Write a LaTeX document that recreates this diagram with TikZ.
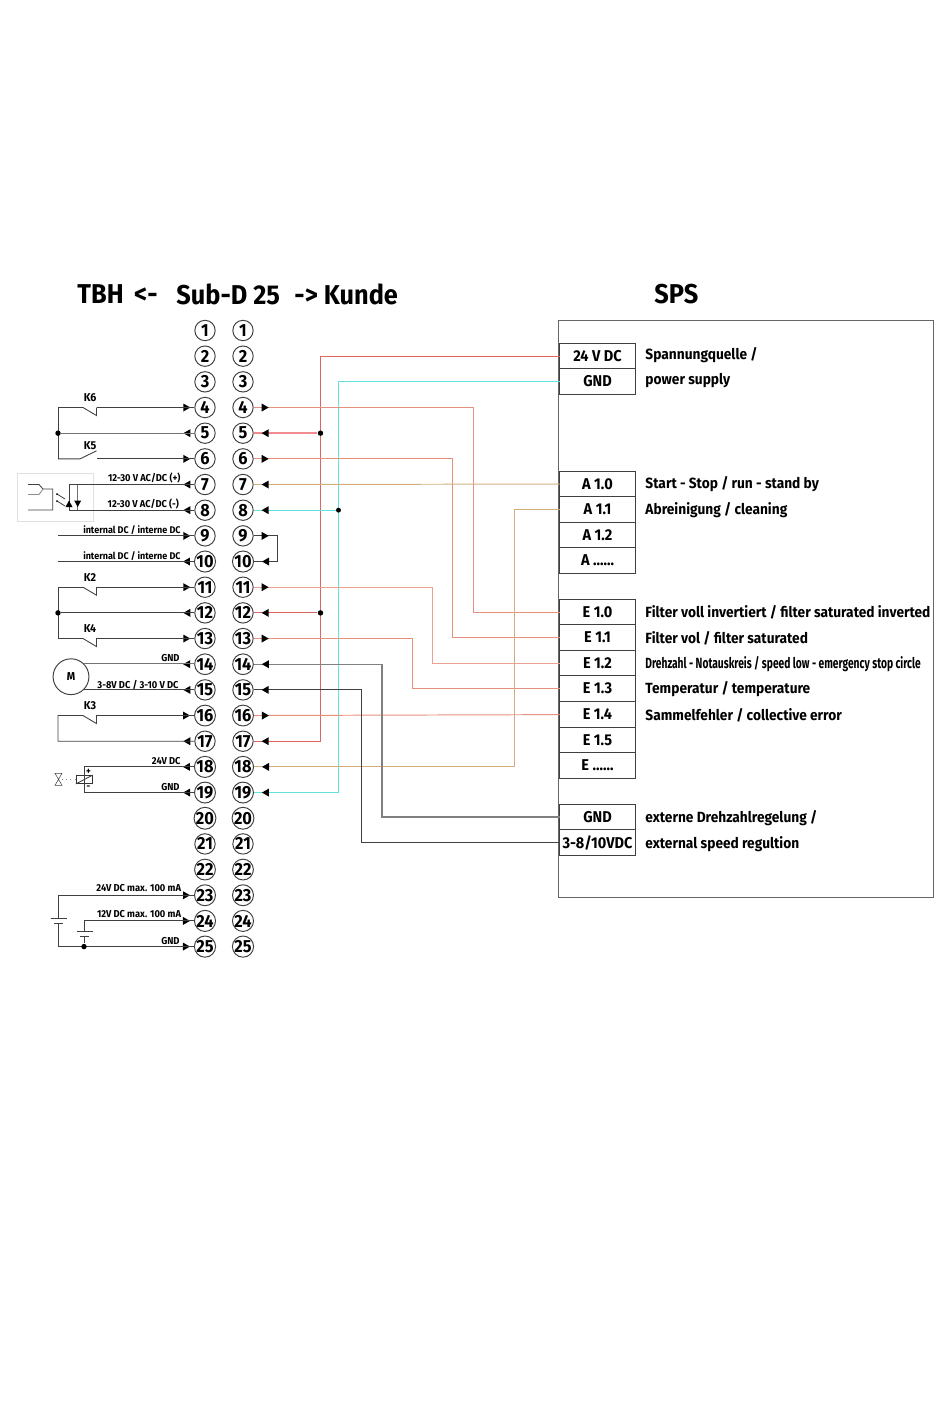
\documentclass[tikz,border=0pt]{standalone}
\usepackage{fontspec}
\setmainfont[FakeStretch=0.93]{Fira Sans}
\newfontfamily\tightfont[FakeStretch=0.695]{Fira Sans}
\usetikzlibrary{calc}
\definecolor{wirered}{HTML}{DE6464}
\definecolor{wirepink}{HTML}{F08C90}
\definecolor{wirecyan}{HTML}{62E2DE}
\definecolor{wiresalmon}{HTML}{E6917E}
\definecolor{wiretan}{HTML}{D3AE7C}
\definecolor{wiregrey}{HTML}{808080}
\tikzset{
	pin/.style={draw=black!75, circle, inner sep=0pt, minimum size=11.6pt, font=\bfseries\fontsize{10}{10}\selectfont},
	plc/.style={draw=black!75, inner sep=0pt, outer sep=0pt, minimum width=43.1pt, minimum height=14.5pt, font=\bfseries\fontsize{8.9}{8.9}\selectfont},
	desc/.style={anchor=west, inner sep=0pt, font=\bfseries\fontsize{8.4}{8.4}\selectfont},
	headline/.style={anchor=west, inner sep=0pt, font=\bfseries\fontsize{15.5}{15.5}\selectfont},
	tag/.style={anchor=east, inner sep=0pt, font=\bfseries\fontsize{5.7}{5.7}\selectfont},
	relay/.style={inner sep=0pt, font=\bfseries\fontsize{6.5}{6.5}\selectfont},
	wire/.style={draw=black!75, line width=.5pt},
	dot/.style={fill=black, circle, inner sep=0pt, minimum size=3.1pt}
}
\begin{document}
\begin{tikzpicture}[x=0.02cm, y=-0.02cm, line width=.55pt]
\useasboundingbox (0,0) rectangle (950,1420);

\node[headline] (tbh) at (77,294) {TBH \,<-};
\node[headline] (subd) at (176,294) {Sub-D 25};
\node[headline] (kunde) at (294,294) {-> Kunde};
\node[headline] (sps) at (654,294) {SPS};

\foreach \n in {1,2,...,25} {
	\node[pin] (l\n) at (205,{330.5+(\n-1)*25.67}) {\n};
	\node[pin] (r\n) at (243,{330.5+(\n-1)*25.67}) {\n};
}

\draw[draw=black!60] (558,320) rectangle (933,897);
\node[plc] (p24) at (597.5,356) {24 V DC};
\node[plc] (pgnd) at (597.5,381.5) {GND};
\foreach \name/\y/\txt in {a10/484/A 1.0,a11/509.5/A 1.1,a12/535/A 1.2,e10/612/E 1.0,e11/637.5/E 1.1,e12/663/E 1.2,e13/688.5/E 1.3,e14/714.5/E 1.4,e15/740/E 1.5,sgnd/817/GND}
	\node[plc] (\name) at (597.5,\y) {\txt};
\node[plc] (a13) at (597.5,560.5) {A ......};
\node[plc] (e16) at (597.5,765.5) {E ......};
\node[plc] (sreg) at (597.5,842.5) {3-8/10VDC};

\node[desc] (d24) at (645,355) {Spannungquelle /};
\node[desc] (dgnd) at (645,381) {power supply};
\node[desc] (da10) at (645,484.5) {Start - Stop / run - stand by};
\node[desc] (da11) at (645,510) {Abreinigung / cleaning};
\node[desc] (de10) at (645,612.5) {Filter voll invertiert / filter saturated inverted};
\node[desc] (de11) at (645,638.5) {Filter vol / filter saturated};
\node[desc, font=\tightfont\bfseries\fontsize{8.4}{8.4}\selectfont] (de12) at (645,664) {Drehzahl - Notauskreis / speed low - emergency stop circle};
\node[desc] (de13) at (645,689.5) {Temperatur / temperature};
\node[desc] (de14) at (645,715.5) {Sammelfehler / collective error};
\node[desc] (dsgnd) at (645,818) {externe Drehzahlregelung /};
\node[desc] (dsreg) at (645,844) {external speed regultion};

\coordinate (b24) at (320.5,0);
\coordinate (bgnd) at (338.5,0);
\coordinate (b4) at (473,0);
\coordinate (b6) at (452.5,0);
\coordinate (b11) at (432,0);
\coordinate (b13) at (412,0);
\coordinate (b14) at (382,0);
\coordinate (b15) at (361.5,0);
\coordinate (b18) at (514.5,0);

\draw[wirered] (p24) -- (p24 -| b24) |- (r17);
\draw[wirecyan] (pgnd) -- (pgnd -| bgnd) |- (r19);
\node[dot] (j5) at (r5 -| b24) {};
\node[dot] (j12) at (r12 -| b24) {};
\node[dot, minimum size=2.8pt] (j8) at (r8 -| bgnd) {};
\draw[wirepink, line width=1.1pt] (r5) -- (j5);
\draw[wirered, line width=.7pt] (r12) -- (j12);
\draw[wirecyan, line width=.7pt] (r8) -- (j8);
\draw[wiresalmon] (r4) -- (r4 -| b4) |- (e10);
\draw[wiresalmon] (r6) -- (r6 -| b6) |- (e11);
\draw[wiresalmon!85!white] (r11) -- (r11 -| b11) |- (e12);
\draw[wiresalmon] (r13) -- (r13 -| b13) |- (e13);
\draw[wiresalmon] (r16) -- (e14);
\draw[wiretan] (r7) -- (a10);
\draw[wiretan] (a11) -- (a11 -| b18) |- (r18);
\draw[wiregrey, line width=.7pt] (r14) -- (r14 -| b14) |- (sgnd);
\draw[black!75] (r15) -- (r15 -| b15) |- (sreg);
\coordinate (b9) at (277,0);
\draw[wire] (r9) -- (r9 -| b9) |- (r10);

\foreach \n in {4,6,9,11,13,16} \fill ($(r\n.east)+(8,-4)$) -- ++(7,4) -- ++(-7,4) -- cycle;
\foreach \n in {5,7,8,10,12,14,15,17,18,19} \fill ($(r\n.east)+(15,-4)$) -- ++(-7,4) -- ++(7,4) -- cycle;
\foreach \n in {4,6,9,11,13,16,23,24,25} \fill ($(l\n.west)+(-11,-4)$) -- ++(7,4) -- ++(-7,4) -- cycle;
\foreach \n in {5,7,8,10,12,14,15,17,18,19} \fill ($(l\n.west)+(-4,-4)$) -- ++(-7,4) -- ++(7,4) -- cycle;

\coordinate (rail) at (58,0);
\coordinate (cont) at (83,0);
\coordinate (hinge) at (96.5,0);
\foreach \top/\mid/\low in {4/5/6,11/12/13} {
	\draw[wire] (l\top -| hinge) -- (l\top);
	\draw[wire] (l\top -| cont) -- (l\top -| rail) -- (l\low -| rail);
	\draw[wire] (l\top -| cont) -- ($(l\top -| hinge)+(0,8)$) -- (l\top -| hinge);
	\node[dot] (j\mid) at (l\mid -| rail) {};
	\draw[wire] (j\mid) -- (l\mid);
}
\draw[wire, black!55, line width=.7pt] (j5) -- (l5);
\draw[wire] (l6) -- (l6 -| hinge);
\draw[wire] (l6 -| rail) -- ($(l6 -| hinge)+(-16.5,0)$) -- ($(l6 -| hinge)+(0,-8)$);
\draw[wire] (l13) -- (l13 -| hinge) -- ($(l13 -| hinge)+(0,8)$) -- (l13 -| cont) -- (l13 -| rail);
\draw[wire] (l16) -- (l16 -| hinge) -- ($(l16 -| hinge)+(0,8)$) -- (l16 -| cont) -- (l16 -| rail) -- (l17 -| rail) -- (l17);

\node[relay] (k6) at (90,398) {K6};
\node[relay] (k5) at (90,446) {K5};
\node[relay] (k2) at (90,577.5) {K2};
\node[relay] (k4) at (90,629) {K4};
\node[relay] (k3) at (90,705.5) {K3};

\draw[black!12] (17,473) rectangle (93.5,521);
\coordinate (led) at (69,0);
\coordinate (zener) at (77.7,0);
\draw[wire] (l7) -- (l7 -| led) -- (l8 -| led) -- (l8);
\draw[wire, black!55] (l7 -| zener) -- (l8 -| zener);
\fill (65.5,507) -- (72.5,507) -- (69,500.5) -- cycle;
\fill (74.2,500.5) -- (81.2,500.5) -- (77.7,507) -- cycle;
\draw[wire] (28,484.5) -- (39,484.5) -- (43,489) -- (52.7,489) -- (52.7,510) -- (28,510);
\draw[wire, black!45] (28,494.5) -- (39,494.5) -- (43,489);
\draw[wire, black!70] (57,494) -- (65,499) (57,501) -- (65,506);
\fill (57,494) circle (1) (57,501) circle (1);
\node[tag] (t7) at (181,478) {12-30 V AC/DC (+)};
\node[tag] (t8) at (179.5,504) {12-30 V AC/DC (-)};

\draw[wire] (l9 -| rail) -- (l9);
\draw[wire] (l10 -| rail) -- (l10);
\node[tag, font=\bfseries\fontsize{5.5}{5.5}\selectfont] (t9) at (181,530) {internal DC / interne DC};
\node[tag, font=\bfseries\fontsize{5.5}{5.5}\selectfont] (t10) at (181,556) {internal DC / interne DC};

\node[draw=black!75, circle, inner sep=0pt, minimum size=20.4pt, font=\bfseries\fontsize{6.5}{6.5}\selectfont] (motor) at (71,676.7) {M};
\draw[wire, black!55, line width=.7pt] (motor.45) -- (motor.45 -| l14.west);
\draw[wire] (motor.-45) -- (motor.-45 -| l15.west);
\node[tag] (t14) at (180,658.5) {GND};
\node[tag] (t15) at (179,684.5) {3-8V DC / 3-10 V DC};

\node[draw=black!80, inner sep=0pt, minimum width=9.1pt, minimum height=4.5pt] (coil) at (84.3,779.5) {};
\draw[wire] (coil.south west) -- (coil.north east);
\draw[wire] (coil.south) -- (coil.south |- l18) -- (l18);
\draw[wire] (coil.north) -- (coil.north |- l19) -- (l19);
\node[relay, font=\bfseries\fontsize{5.5}{5.5}\selectfont] (cplus) at (88.5,771.5) {+};
\node[relay, font=\bfseries\fontsize{5.5}{5.5}\selectfont] (cminus) at (88.5,788) {-};
\node[tag] (t18) at (181,761) {24V DC};
\node[tag] (t19) at (180,787) {GND};
\draw[black!45, dotted] (coil.west) -- (62,779.5);
\draw[black!75, line width=.3pt] (55,773.3) -- (62,773.3) -- (55,785.3) -- (62,785.3) -- cycle;

\coordinate (bat) at (58.3,0);
\coordinate (cell) at (84,0);
\draw[wire] (l23) -- (l23 -| bat) -- (58.3,918);
\draw[wire] (50.5,918) -- (66.5,918);
\draw[wire] (54,923) -- (62.7,923);
\draw[wire] (58.3,923) -- (l25 -| bat) -- (l25);
\draw[wire] (l24) -- (l24 -| cell) -- (84,931);
\draw[wire] (76.5,931) -- (92.5,931);
\draw[wire] (80,936) -- (88.5,936);
\node[dot] (j25) at (l25 -| cell) {};
\draw[wire] (84,936) -- (j25);
\node[tag] (t23) at (181.5,888.5) {24V DC max. 100 mA};
\node[tag] (t24) at (181.5,914) {12V DC max. 100 mA};
\node[tag] (t25) at (180,941) {GND};
\end{tikzpicture}
\end{document}
